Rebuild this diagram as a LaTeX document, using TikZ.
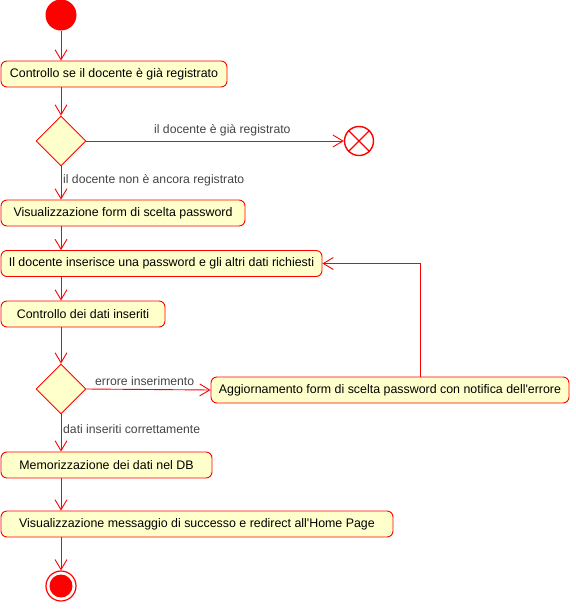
\documentclass[tikz,border=0pt]{standalone}
\usepackage{fontspec}
\setmainfont{Liberation Sans}
\usetikzlibrary{shapes.geometric,arrows.meta}
\definecolor{umlred}{HTML}{FF0000}
\definecolor{umlfill}{HTML}{FFFFCC}
\definecolor{lbltext}{HTML}{444444}
\begin{document}
\begin{tikzpicture}[x=1pt,y=-1pt,
  act/.style={draw=umlred, fill=umlfill, rounded corners=6pt, line width=0.9pt,
    minimum height=26pt, inner sep=0pt, font=\fontsize{12.4}{14}\selectfont, text=black},
  dec/.style={diamond, draw=umlred, fill=umlfill, minimum width=50pt, minimum height=50pt,
    inner sep=0pt, line width=0.9pt},
  flow/.style={draw=umlred, line width=0.9pt, -{Straight Barb[length=10pt,width=12pt]}},
  lbl/.style={font=\fontsize{12.2}{14}\selectfont, text=lbltext, inner sep=0pt, anchor=west}]
\useasboundingbox (0,0) rectangle (576,614);

% start and end states
\node[circle, fill=umlred, minimum size=31pt, inner sep=0pt] (s) at (61,15) {};
\node[circle, draw=umlred, fill=white, line width=1.2pt, minimum size=30pt, inner sep=0pt,
  path picture={\fill[umlred] (path picture bounding box.center) circle (11.5pt);}] (e) at (61,586) {};

% flow-final node
\node[circle, draw=umlred, fill=white, line width=1.4pt, minimum size=29pt, inner sep=0pt] (x) at (359,141) {};
\draw[umlred, line width=1.4pt] (x.north west) -- (x.south east) (x.north east) -- (x.south west);

% actions
\node[act, minimum width=226pt] (b1) at (114,74) {Controllo se il docente è già registrato};
\node[dec] (d1) at (61,141) {};
\node[act, minimum width=244pt] (b2) at (123,213) {Visualizzazione form di scelta password};
\node[act, minimum width=321pt] (b3) at (161.5,263.5) {Il docente inserisce una password e gli altri dati richiesti};
\node[act, minimum width=164pt] (b4) at (83,314) {Controllo dei dati inseriti};
\node[dec] (d2) at (61,389) {};
\node[act, minimum width=358pt] (b5) at (390,390) {Aggiornamento form di scelta password con notifica dell\textquotesingle errore};
\node[act, minimum width=211pt] (b6) at (106.5,465) {Memorizzazione dei dati nel DB};
\node[act, minimum width=392pt] (b7) at (197,524) {Visualizzazione messaggio di successo e redirect all\textquotesingle Home Page};

% guard labels
\node[lbl] (l1) at (154,130) {il docente è già registrato};
\node[lbl] (l2) at (63,180) {il docente non è ancora registrato};
\node[lbl] (l3) at (95,381) {errore inserimento};
\node[lbl] (l4) at (63,429) {dati inseriti correttamente};

% control flow
\draw[flow] (s) -- (s |- b1.north);
\draw[flow] (s |- b1.south) -- (d1.north);
\draw[flow] (d1.east) -- (x.west);
\draw[flow] (d1.south) -- (s |- b2.north);
\draw[flow] (s |- b2.south) -- (s |- b3.north);
\draw[flow] (s |- b3.south) -- (s |- b4.north);
\draw[flow] (s |- b4.south) -- (d2.north);
\draw[flow] (d2.east) -- (b5.west);
\draw[flow] ([xshift=30pt]b5.north) |- (b3.east);
\draw[flow] (d2.south) -- (s |- b6.north);
\draw[flow] (s |- b6.south) -- (s |- b7.north);
\draw[flow] (s |- b7.south) -- (e.north);
\end{tikzpicture}
\end{document}
